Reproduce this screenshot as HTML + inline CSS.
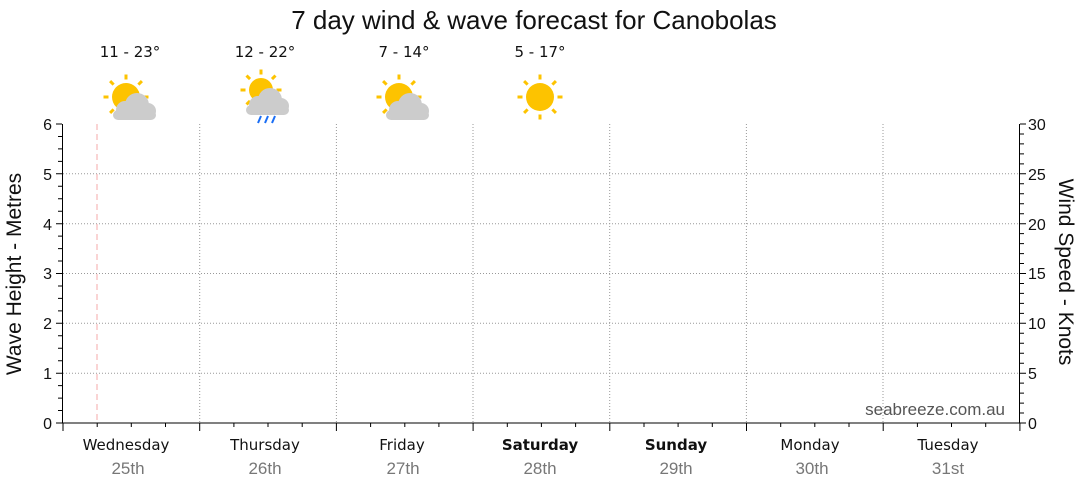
<!DOCTYPE html>
<html><head><meta charset="utf-8"><style>
body{margin:0;background:#fff;}
svg{display:block;font-family:"Liberation Sans","DejaVu Sans",sans-serif;}
</style></head><body>
<svg id="s" width="1080" height="490" viewBox="0 0 1080 490" xmlns="http://www.w3.org/2000/svg">
<rect width="1080" height="490" fill="#fff"/>
<text x="534" y="29" font-size="26" text-anchor="middle" fill="#111">7 day wind &amp; wave forecast for Canobolas</text>
<g font-size="15" text-anchor="middle" fill="#111" font-family="DejaVu Sans, sans-serif">
<text x="130" y="57">11 - 23°</text>
<text x="265" y="57">12 - 22°</text>
<text x="404" y="57">7 - 14°</text>
<text x="540" y="57">5 - 17°</text>
</g>
<g id="icons"></g>
<g stroke="#999" stroke-width="1" stroke-dasharray="1,2">
<line x1="63" x2="1019" y1="173.8" y2="173.8"/>
<line x1="63" x2="1019" y1="223.7" y2="223.7"/>
<line x1="63" x2="1019" y1="273.5" y2="273.5"/>
<line x1="63" x2="1019" y1="323.3" y2="323.3"/>
<line x1="63" x2="1019" y1="373.2" y2="373.2"/>
<line x1="199.7" x2="199.7" y1="124" y2="423"/>
<line x1="336.4" x2="336.4" y1="124" y2="423"/>
<line x1="473" x2="473" y1="124" y2="423"/>
<line x1="609.7" x2="609.7" y1="124" y2="423"/>
<line x1="746.4" x2="746.4" y1="124" y2="423"/>
<line x1="883" x2="883" y1="124" y2="423"/>
</g>
<line x1="97" x2="97" y1="124" y2="423" stroke="#f4a8a8" stroke-dasharray="6,4"/>
<g id="ticks" stroke="#000" fill="none"></g>
<line x1="62.5" x2="62.5" y1="124" y2="423" stroke="#000"/>
<line x1="1019.5" x2="1019.5" y1="124" y2="423" stroke="#000"/>
<line x1="62" x2="1020" y1="423" y2="423" stroke="#000"/>
<g font-size="16" fill="#111" text-anchor="end">
<text x="52" y="429">0</text><text x="52" y="379">1</text><text x="52" y="329">2</text>
<text x="52" y="279">3</text><text x="52" y="230">4</text><text x="52" y="180">5</text><text x="52" y="130">6</text>
</g>
<g font-size="16" fill="#111">
<text x="1028" y="429">0</text><text x="1028" y="379">5</text><text x="1028" y="329">10</text>
<text x="1028" y="279">15</text><text x="1028" y="230">20</text><text x="1028" y="180">25</text><text x="1028" y="130">30</text>
</g>
<text transform="translate(21,274) rotate(-90)" font-size="21" text-anchor="middle" fill="#111">Wave Height - Metres</text>
<text transform="translate(1059,272) rotate(90)" font-size="21" text-anchor="middle" fill="#111">Wind Speed - Knots</text>
<text x="1005" y="415" font-size="17" text-anchor="end" fill="#555">seabreeze.com.au</text>
<g font-size="15" text-anchor="middle" fill="#111" font-family="DejaVu Sans, sans-serif">
<text x="126" y="450">Wednesday</text><text x="265" y="450">Thursday</text><text x="402" y="450">Friday</text>
<text x="540" y="450" font-weight="bold">Saturday</text><text x="676" y="450" font-weight="bold">Sunday</text>
<text x="810" y="450">Monday</text><text x="948" y="450">Tuesday</text>
</g>
<g font-size="17" text-anchor="middle" fill="#777">
<text x="128" y="474">25th</text><text x="265" y="474">26th</text><text x="403" y="474">27th</text>
<text x="540" y="474">28th</text><text x="676" y="474">29th</text><text x="812" y="474">30th</text><text x="948" y="474">31st</text>
</g>
</svg>
<script>
var t='',i;
for(i=0;i<=24;i++){var y=423-i*299/24;t+='M'+(i%4==0?56:58)+' '+y.toFixed(1)+'H62';}
for(i=0;i<=30;i++){var y=423-i*299/30;t+='M1020 '+y.toFixed(1)+'H'+(i%5==0?1026:1024);}
for(i=0;i<=28;i++){var x=63+i*136.7/4;t+='M'+x.toFixed(1)+' 423V'+(i%4==0?431:427);}
document.getElementById('ticks').innerHTML='<path d="'+t+'"/>';
function sun(cx,cy,r){var s='<g fill="#fdc300" stroke="none">';for(var k=0;k<8;k++){var a=k*Math.PI/4,x=cx+Math.cos(a)*(r+6),y=cy+Math.sin(a)*(r+6);s+='<rect x="'+(x-1.5)+'" y="'+(y-2.5)+'" width="3" height="5" transform="rotate('+(k*45+90)+' '+x+' '+y+')"/>';}s+='<circle cx="'+cx+'" cy="'+cy+'" r="'+r+'"/></g>';return s;}
function cloud(x0,y0){/* 43x27 box */return '<g fill="#cccccc"><circle cx="'+(x0+24)+'" cy="'+(y0+12)+'" r="12"/><circle cx="'+(x0+12)+'" cy="'+(y0+17)+'" r="9"/><circle cx="'+(x0+35)+'" cy="'+(y0+18)+'" r="8"/><rect x="'+x0+'" y="'+(y0+17)+'" width="43" height="10" rx="5"/></g>';}
var h='';
h+=sun(126,97,14)+cloud(113,93);
h+=sun(261,90,12)+cloud(246,88)+'<g stroke="#1a6ef5" stroke-width="2"><line x1="258" y1="123" x2="261" y2="116"/><line x1="265" y1="123" x2="268" y2="116"/><line x1="272" y1="123" x2="275" y2="116"/></g>';
h+=sun(399,97,14)+cloud(386,93);
h+=sun(540,97,14);
document.getElementById('icons').innerHTML=h;
</script>
</body></html>
